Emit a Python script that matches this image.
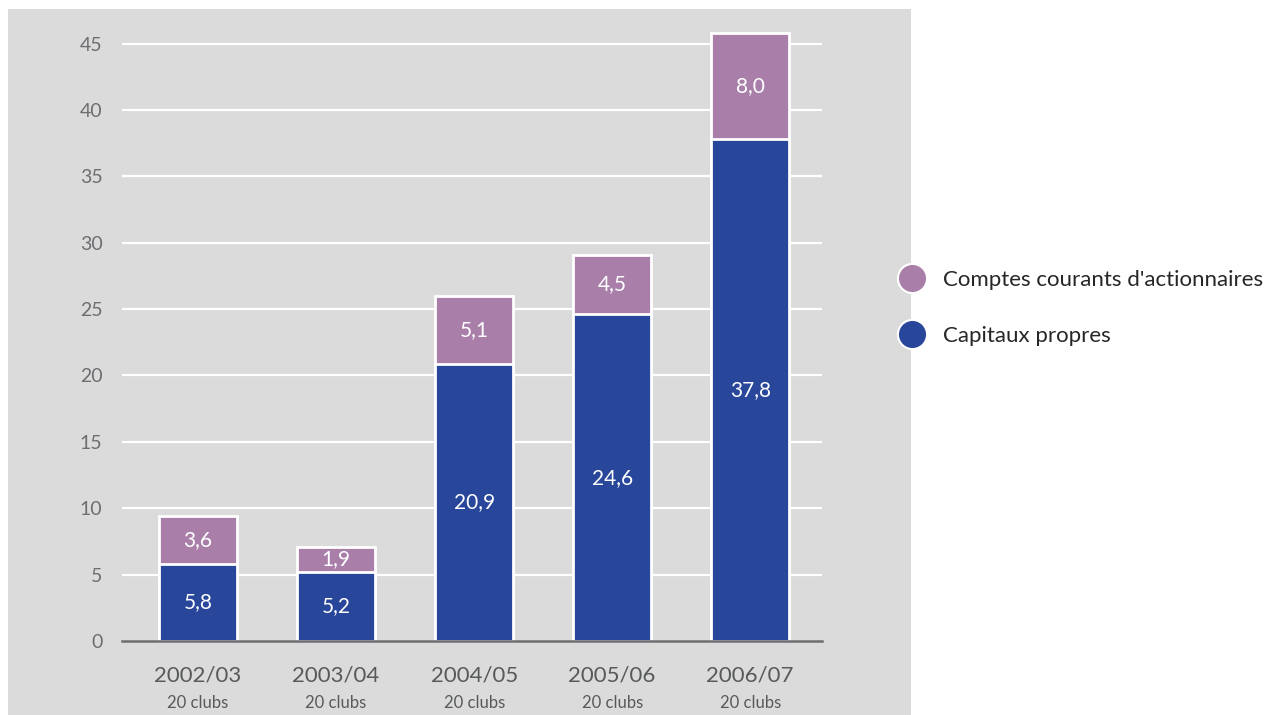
import pandas as pd, numpy as np, seaborn as sns
import matplotlib.pyplot as plt
from matplotlib.patches import Rectangle
from matplotlib.lines import Line2D

# data (millions)
seasons = ["2002/03", "2003/04", "2004/05", "2005/06", "2006/07"]
clubs = ["20 clubs", "20 clubs", "20 clubs", "20 clubs", "20 clubs"]
capitaux = [5.8, 5.2, 20.9, 24.6, 37.8]
comptes = [3.6, 1.9, 5.1, 4.5, 8.0]

blue = "#28479b"
purple = "#a97faa"
panel = "#dadbda"

df = pd.DataFrame({"season": seasons, "capitaux": capitaux, "comptes": comptes})
df["total"] = df["capitaux"] + df["comptes"]

sns.set_style("white")
plt.rcParams['font.family'] = ['Lato', 'DejaVu Sans']

fig = plt.figure(figsize=(12.81, 7.15), dpi=100)
# grey background panel
fig.patches.append(Rectangle((8 / 1281, 0), 903 / 1281, 706 / 715,
                             transform=fig.transFigure, facecolor=panel,
                             edgecolor="none", zorder=-1))

ax = fig.add_axes([122 / 1281, 74 / 715, 700 / 1281, 624 / 715])
ax.set_facecolor("none")
ax.set_zorder(2)

# stacked: totals first (purple), then equity on top of it (blue)
sns.barplot(data=df, x="season", y="total", color=purple, width=0.565,
            edgecolor="white", linewidth=2, saturation=1, ax=ax, zorder=3)
sns.barplot(data=df, x="season", y="capitaux", color=blue, width=0.565,
            edgecolor="white", linewidth=2, saturation=1, ax=ax, zorder=4)

fmt = lambda v: f"{v:.1f}".replace(".", ",")
for i, row in df.iterrows():
    ax.text(i, row["capitaux"] / 2, fmt(row["capitaux"]), ha="center", va="center",
            color="white", fontsize=15, zorder=5)
    ax.text(i, row["capitaux"] + row["comptes"] / 2, fmt(row["comptes"]), ha="center",
            va="center", color="white", fontsize=15, zorder=5)

ax.set_ylim(0, 47)
ax.set_xlim(-0.551, 4.52)
ax.set_yticks(range(0, 50, 5))
for y in range(5, 50, 5):
    ax.axhline(y, color="white", linewidth=1.6, zorder=1)

for s in ["left", "right", "top"]:
    ax.spines[s].set_visible(False)
ax.spines["bottom"].set_color("#6d6e71")
ax.spines["bottom"].set_linewidth(1.8)
ax.spines["bottom"].set_zorder(6)

ax.tick_params(axis="y", length=0, pad=14, labelsize=14, labelcolor="#6d6e71")
ax.tick_params(axis="x", length=0, pad=18, labelsize=16, labelcolor="#58595b")
ax.set_xlabel("")
ax.set_ylabel("")

for i, c in enumerate(clubs):
    ax.text(i, -0.099, c, transform=ax.get_xaxis_transform(), ha="center",
            va="center", fontsize=12, color="#58595b")

handles = [
    Line2D([], [], marker="o", ls="", markersize=21, markerfacecolor=purple,
           markeredgecolor="white", markeredgewidth=1.5),
    Line2D([], [], marker="o", ls="", markersize=21, markerfacecolor=blue,
           markeredgecolor="white", markeredgewidth=1.5),
]
fig.legend(handles, ["Comptes courants d'actionnaires", "Capitaux propres"],
           loc="center left", bbox_to_anchor=(901.6 / 1281, (715 - 307.5) / 715),
           frameon=False, fontsize=16, handlelength=0.95, handletextpad=0.9,
           labelspacing=1.62, borderpad=0, borderaxespad=0)

fig.savefig("out.png", dpi=100)
